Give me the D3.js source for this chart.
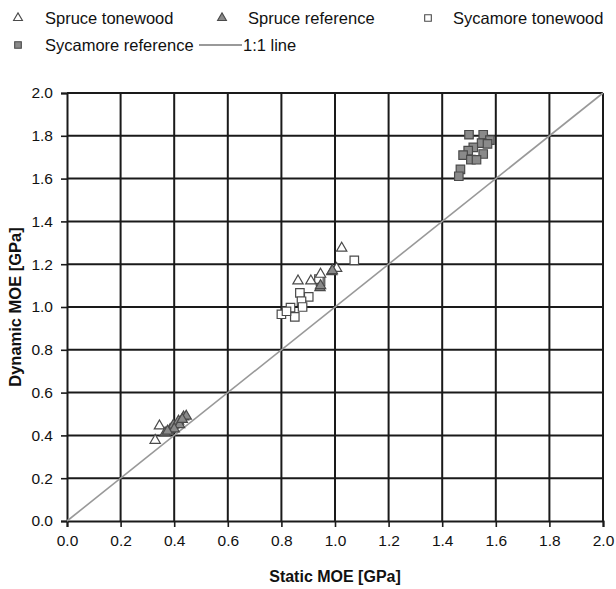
<!DOCTYPE html>
<html><head><meta charset="utf-8">
<script src="https://cdn.jsdelivr.net/npm/d3@7"></script>
<style>body{margin:0;background:#fff}svg{display:block;font-family:"Liberation Sans",Arial,sans-serif}</style>
</head><body><div id="chart"></div>
<script>
const xTicks = [0,0.2,0.4,0.6,0.8,1.0,1.2,1.4,1.6,1.8,2.0];
const yTicks = [0,0.2,0.4,0.6,0.8,1.0,1.2,1.4,1.6,1.8,2.0];
const seriesNames = ["Spruce tonewood","Spruce reference","Sycamore tonewood","Sycamore reference","1:1 line"];

const spruceTonewood = [
  [1.025,1.275],[0.862,1.122],[0.91,1.122],[0.946,1.153],[0.988,1.165],[1.006,1.18],
  [0.329,0.377],[0.345,0.444]
];
const spruceReference = [
  [0.944,1.09],[0.946,1.10],[0.99,1.17],
  [0.366,0.412],[0.385,0.428],[0.397,0.448],[0.416,0.467],[0.435,0.486],[0.445,0.49],
  [0.42,0.45],[0.40,0.43],[0.375,0.42],[0.43,0.475]
];
const sycamoreTonewood = [
  [1.072,1.218],[0.869,1.066],[0.902,1.047],[0.875,1.027],[0.834,0.997],[0.879,1.0],
  [0.80,0.966],[0.85,0.954],[0.819,0.98],[0.946,1.12],[0.94,1.13]
];
const sycamoreReference = [
  [1.50,1.805],[1.553,1.805],[1.578,1.78],[1.547,1.766],[1.569,1.762],[1.516,1.746],
  [1.497,1.731],[1.478,1.71],[1.553,1.715],[1.507,1.689],[1.528,1.688],[1.468,1.643],[1.462,1.611]
];
const identityLine = [[0,0],[2,2]];

const W=616,H=589;
const m={left:67,right:13,top:93,bottom:68};
const svg=d3.select("#chart").append("svg").attr("width",W).attr("height",H);
const x=d3.scaleLinear().domain([0,2]).range([m.left,W-m.right]);
const y=d3.scaleLinear().domain([0,2]).range([H-m.bottom,m.top]);

// grid
const g=svg.append("g");
g.selectAll(".vg").data(xTicks.slice(1)).join("line")
  .attr("x1",d=>x(d)).attr("x2",d=>x(d)).attr("y1",y(0)).attr("y2",y(2))
  .attr("stroke","#1a1a1a").attr("stroke-width",2);
g.selectAll(".hg").data(yTicks.slice(1)).join("line")
  .attr("x1",x(0)).attr("x2",x(2)).attr("y1",d=>y(d)).attr("y2",d=>y(d))
  .attr("stroke","#1a1a1a").attr("stroke-width",2);

// axes
const xAxis=svg.append("g").attr("transform",`translate(0,${y(0)})`)
  .call(d3.axisBottom(x).tickValues(xTicks).tickFormat(d3.format(".1f")).tickSize(6).tickPadding(8));
const yAxis=svg.append("g").attr("transform",`translate(${x(0)},0)`)
  .call(d3.axisLeft(y).tickValues(yTicks).tickFormat(d3.format(".1f")).tickSize(6).tickPadding(8));
[xAxis,yAxis].forEach(a=>{
  a.selectAll("path").attr("stroke","#1a1a1a").attr("stroke-width",2);
  a.selectAll("line").attr("stroke","#1a1a1a").attr("stroke-width",1.6);
  a.selectAll("text").attr("fill","#111").style("font-size","15.5px").style("font-family","'Liberation Sans',Arial,sans-serif");
});

// 1:1 line
const line=d3.line().x(d=>x(d[0])).y(d=>y(d[1]));
svg.append("path").datum(identityLine).attr("d",line).attr("fill","none").attr("stroke","#999").attr("stroke-width",1.6);

const tri=d3.symbol().type(d3.symbolTriangle).size(46);
const sq=d3.symbol().type(d3.symbolSquare).size(72);

function pts(data,gen,fill){
  svg.append("g").selectAll("path").data(data).join("path")
    .attr("d",gen).attr("transform",d=>`translate(${x(d[0])},${y(d[1])})`)
    .attr("fill",fill).attr("stroke","#4a4a4a").attr("stroke-width",1.2);
}
pts(sycamoreTonewood,sq,"#fff");
pts(spruceTonewood,tri,"#fff");
pts(spruceReference,tri,"#8a8a8a");
pts(sycamoreReference,sq,"#8a8a8a");

// titles
svg.append("text").attr("x",x(1)).attr("y",582).attr("text-anchor","middle")
  .style("font-weight","bold").style("font-size","16px").attr("fill","#111").text("Static MOE [GPa]");
svg.append("text").attr("transform",`translate(21,${y(1)}) rotate(-90)`).attr("text-anchor","middle")
  .style("font-weight","bold").style("font-size","16.5px").attr("fill","#111").text("Dynamic MOE [GPa]");

// legend
const leg=svg.append("g").style("font-size","16.5px");
const items=[
  {n:seriesNames[0],t:"tri",f:"#fff",x:18,y:18,tx:45},
  {n:seriesNames[1],t:"tri",f:"#8a8a8a",x:222,y:18,tx:248},
  {n:seriesNames[2],t:"sq",f:"#fff",x:428,y:18,tx:453},
  {n:seriesNames[3],t:"sq",f:"#8a8a8a",x:18,y:45,tx:45},
  {n:seriesNames[4],t:"line",x:199,y:45,tx:243}
];
items.forEach(it=>{
  if(it.t==="line"){
    leg.append("line").attr("x1",it.x).attr("x2",it.tx-1).attr("y1",it.y).attr("y2",it.y).attr("stroke","#777").attr("stroke-width",1.4);
  } else {
    leg.append("path").attr("d",it.t==="tri"?d3.symbol().type(d3.symbolTriangle).size(34)():d3.symbol().type(d3.symbolSquare).size(44)())
      .attr("transform",`translate(${it.x},${it.y})`).attr("fill",it.f).attr("stroke","#4a4a4a").attr("stroke-width",1.1);
  }
  leg.append("text").attr("x",it.tx).attr("y",it.y+5.5).attr("fill","#111").text(it.n);
});
</script></body></html>
